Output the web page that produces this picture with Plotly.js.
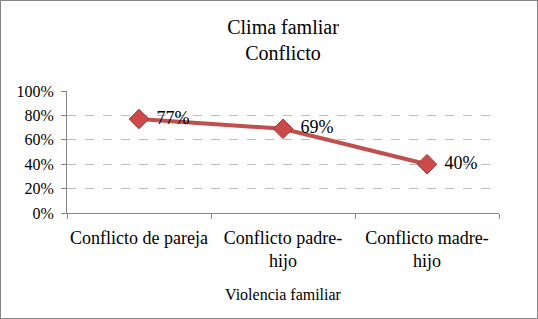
<!DOCTYPE html>
<html>
<head>
<meta charset="utf-8">
<script src="https://cdn.plot.ly/plotly-3.0.1.min.js"></script>
<style>
html,body{margin:0;padding:0;background:#fff;}
#wrap{width:538px;height:319px;box-sizing:border-box;border:1px solid #868686;position:relative;overflow:hidden;}
#chart{position:absolute;left:-1px;top:-1px;width:538px;height:319px;}
</style>
</head>
<body>
<div id="wrap"><div id="chart"></div></div>
<script>
const categories = ["Conflicto de pareja", "Conflicto padre-<br>hijo", "Conflicto madre-<br>hijo"];
const values = [0.77, 0.69, 0.40];
const labels = ["\u2009\u200977%", "\u2009\u200969%", "\u2009\u200940%"];
const yTicks = [0, 0.2, 0.4, 0.6, 0.8, 1.0];
const yTickText = ["0%", "20%", "40%", "60%", "80%", "100%"];

const serif = "Liberation Serif";

const trace = {
  type: "scatter",
  mode: "lines+markers+text",
  x: categories,
  y: values,
  text: labels,
  textposition: "middle right",
  textfont: {family: serif, size: 18, color: "#000"},
  line: {color: "#c0504d", width: 4},
  marker: {symbol: "diamond", size: 15, color: "#cc4a47", line: {color: "#9e3532", width: 1}},
  cliponaxis: false,
  hoverinfo: "skip"
};

const layout = {
  width: 538, height: 319,
  margin: {l: 67, r: 39, t: 91, b: 106},
  paper_bgcolor: "rgba(0,0,0,0)",
  plot_bgcolor: "rgba(0,0,0,0)",
  showlegend: false,
  font: {family: serif},
  title: {
    text: "Clima famliar<br>Conflicto",
    font: {family: serif, size: 20, color: "#000"},
    x: 0.5, xanchor: "center", xref: "paper",
    yref: "container", y: 1 - 34 / 319, yanchor: "top"
  },
  xaxis: {
    type: "category",
    automargin: false,
    showline: true, linecolor: "#868686", linewidth: 1,
    ticks: "outside", tickson: "boundaries", ticklen: 5, tickcolor: "#868686",
    showgrid: false,
    tickangle: 0,
    tickfont: {family: serif, size: 18, color: "#000"},
    ticklabelstandoff: 8,
    title: {text: "Violencia familiar", font: {family: serif, size: 16, color: "#000"}, standoff: 18},
    range: [-0.5, 2.5],
    fixedrange: true
  },
  yaxis: {
    automargin: false,
    range: [0, 1],
    tickvals: yTicks, ticktext: yTickText,
    showline: true, linecolor: "#868686", linewidth: 1,
    ticks: "outside", ticklen: 5, tickcolor: "#868686",
    ticklabelstandoff: 4,
    showgrid: true, gridcolor: "#bdbdbd", griddash: "dash", gridwidth: 1,
    zeroline: false,
    tickfont: {family: serif, size: 16, color: "#000"},
    fixedrange: true
  }
};

Plotly.newPlot("chart", [trace], layout, {displayModeBar: false, staticPlot: true});
</script>
</body>
</html>
